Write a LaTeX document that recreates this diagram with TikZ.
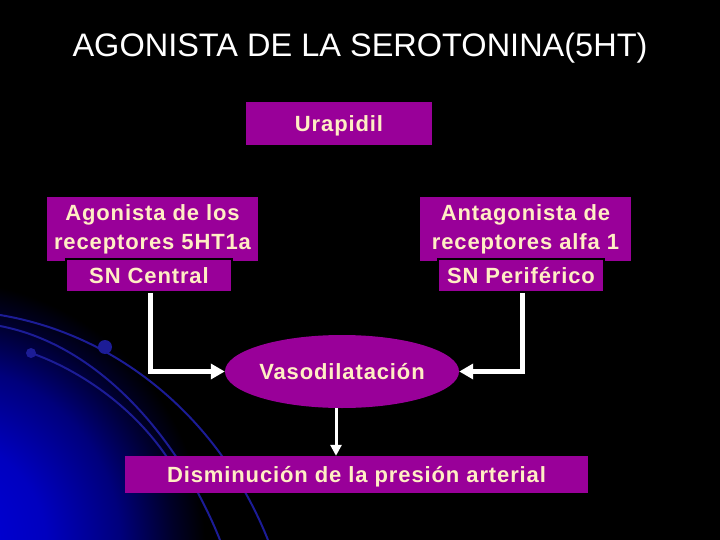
\documentclass[tikz,border=0pt]{standalone}
\usepackage{fontspec}
\setmainfont{Liberation Sans}
\newfontfamily\bodyf{Liberation Sans}[LetterSpace=4.0]
\usetikzlibrary{shapes.geometric,arrows.meta}
\definecolor{slidepurple}{RGB}{153,0,153}
\definecolor{cream}{RGB}{255,238,196}
\definecolor{arcblue}{RGB}{28,28,150}
\definecolor{glowblue}{RGB}{0,0,225}
\pgfdeclareradialshading{bluglow}{\pgfpoint{0bp}{0bp}}{%
  color(0bp)=(glowblue); color(10bp)=(glowblue!85!black);
  color(17bp)=(glowblue!55!black); color(22bp)=(glowblue!18!black);
  color(25bp)=(black); color(50bp)=(black)}
\tikzset{
  box/.style={rectangle, fill=slidepurple, inner sep=0pt, text=cream,
    font=\bodyf\bfseries\fontsize{22}{29}\selectfont, align=center},
  onel/.style={text height=15.75pt, text depth=0pt},
  subbox/.style={box, onel, draw=black, line width=1.5pt},
  conn/.style={draw=white, line width=5pt,
    -{Triangle[length=14pt,width=15pt]}},
  conndown/.style={draw=white, line width=3pt,
    -{Triangle[length=11pt,width=11pt]}},
  deco/.style={draw=arcblue, line width=2pt},
}
\begin{document}
\begin{tikzpicture}[x=1pt,y=-1pt]
\useasboundingbox (0,0) rectangle (720,540);
\fill[black] (0,0) rectangle (720,540);
\begin{scope}
  \clip (0,0) rectangle (720,540);
  \shade[shading=bluglow] (-60,545) circle (265);
  % decorative arcs
  \draw[deco] (0,315) .. controls (120,335) and (220,420) .. (268,540);
  \draw[deco] (0,326) .. controls (100,345) and (180,440) .. (220,540);
  \draw[deco] (31,353) .. controls (80,370) and (140,410) .. (175,470);
  \fill[arcblue] (105,347) circle (7);
  \fill[arcblue] (31,353) circle (5);
\end{scope}

% title
\node[anchor=base, text=white, font=\fontsize{32.5}{38}\selectfont] (title) at (360,56.7)
  {AGONISTA DE LA SEROTONINA(5HT)};

% boxes
\node[box, onel, minimum width=186pt, minimum height=43pt] (ura) at (339,123.5) {Urapidil};
\node[box, minimum width=211pt, minimum height=64pt] (ago) at (152.5,229)
  {Agonista de los\\receptores 5HT1a};
\node[subbox, minimum width=166pt, minimum height=33pt] (snc) at (149,275.5) {SN Central};
\node[box, minimum width=211pt, minimum height=64pt] (ant) at (525.5,229)
  {Antagonista de\\receptores alfa 1};
\node[subbox, minimum width=166pt, minimum height=33pt] (snp) at (521,275.5) {SN Periférico};
\node[box, onel, ellipse, minimum width=230pt, minimum height=73pt] (vaso) at (342,371.5)
  {Vasodilatación};
\node[box, onel, minimum width=463pt, minimum height=37pt] (dism) at (356.5,474.5)
  {Disminución de la presión arterial};

% connectors
\draw[conn] ([xshift=1pt]snc.south) |- (vaso.west);
\draw[conn] ([xshift=1pt]snp.south) |- (vaso.east);
\draw[conndown] ([xshift=-6pt]vaso.south) -- ([xshift=-6pt]vaso.south |- dism.north);
\end{tikzpicture}
\end{document}
